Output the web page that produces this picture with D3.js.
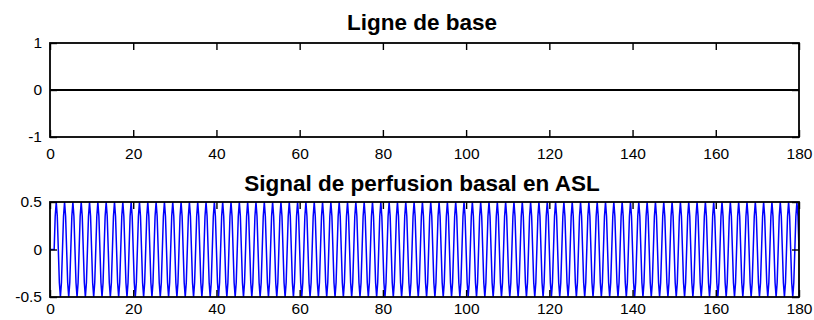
<!DOCTYPE html>
<html><head><meta charset="utf-8">
<script src="https://cdn.jsdelivr.net/npm/d3@7"></script>
<style>
body{margin:0;background:#fff}
svg{display:block}
text{font-family:"Liberation Sans",Arial,Helvetica,sans-serif}
</style>
</head><body>
<svg id="chart" width="814" height="320"></svg>
<script>
const xTicks = [0, 20, 40, 60, 80, 100, 120, 140, 160, 180];
const baselineTitle = "Ligne de base";
const signalTitle = "Signal de perfusion basal en ASL";
const baselineYTicks = [-1, 0, 1];
const signalYTicks = [-0.5, 0, 0.5];
const baselineTimes = [0, 180];
const baselineValues = [0, 0];
const signalStart = 0;
const signalStep = 0.25;
const signalValues = [
0,0,0,0,
0,.35,.5,.35,0,-.35,-.5,-.35,0,.35,.5,.35,0,-.35,-.5,-.35,0,.35,.5,.35,0,-.35,-.5,-.35,0,.35,.5,.35,0,-.35,-.5,-.35,
0,.35,.5,.35,0,-.35,-.5,-.35,0,.35,.5,.35,0,-.35,-.5,-.35,0,.35,.5,.35,0,-.35,-.5,-.35,0,.35,.5,.35,0,-.35,-.5,-.35,
0,.35,.5,.35,0,-.35,-.5,-.35,0,.35,.5,.35,0,-.35,-.5,-.35,0,.35,.5,.35,0,-.35,-.5,-.35,0,.35,.5,.35,0,-.35,-.5,-.35,
0,.35,.5,.35,0,-.35,-.5,-.35,0,.35,.5,.35,0,-.35,-.5,-.35,0,.35,.5,.35,0,-.35,-.5,-.35,0,.35,.5,.35,0,-.35,-.5,-.35,
0,.35,.5,.35,0,-.35,-.5,-.35,0,.35,.5,.35,0,-.35,-.5,-.35,0,.35,.5,.35,0,-.35,-.5,-.35,0,.35,.5,.35,0,-.35,-.5,-.35,
0,.35,.5,.35,0,-.35,-.5,-.35,0,.35,.5,.35,0,-.35,-.5,-.35,0,.35,.5,.35,0,-.35,-.5,-.35,0,.35,.5,.35,0,-.35,-.5,-.35,
0,.35,.5,.35,0,-.35,-.5,-.35,0,.35,.5,.35,0,-.35,-.5,-.35,0,.35,.5,.35,0,-.35,-.5,-.35,0,.35,.5,.35,0,-.35,-.5,-.35,
0,.35,.5,.35,0,-.35,-.5,-.35,0,.35,.5,.35,0,-.35,-.5,-.35,0,.35,.5,.35,0,-.35,-.5,-.35,0,.35,.5,.35,0,-.35,-.5,-.35,
0,.35,.5,.35,0,-.35,-.5,-.35,0,.35,.5,.35,0,-.35,-.5,-.35,0,.35,.5,.35,0,-.35,-.5,-.35,0,.35,.5,.35,0,-.35,-.5,-.35,
0,.35,.5,.35,0,-.35,-.5,-.35,0,.35,.5,.35,0,-.35,-.5,-.35,0,.35,.5,.35,0,-.35,-.5,-.35,0,.35,.5,.35,0,-.35,-.5,-.35,
0,.35,.5,.35,0,-.35,-.5,-.35,0,.35,.5,.35,0,-.35,-.5,-.35,0,.35,.5,.35,0,-.35,-.5,-.35,0,.35,.5,.35,0,-.35,-.5,-.35,
0,.35,.5,.35,0,-.35,-.5,-.35,0,.35,.5,.35,0,-.35,-.5,-.35,0,.35,.5,.35,0,-.35,-.5,-.35,0,.35,.5,.35,0,-.35,-.5,-.35,
0,.35,.5,.35,0,-.35,-.5,-.35,0,.35,.5,.35,0,-.35,-.5,-.35,0,.35,.5,.35,0,-.35,-.5,-.35,0,.35,.5,.35,0,-.35,-.5,-.35,
0,.35,.5,.35,0,-.35,-.5,-.35,0,.35,.5,.35,0,-.35,-.5,-.35,0,.35,.5,.35,0,-.35,-.5,-.35,0,.35,.5,.35,0,-.35,-.5,-.35,
0,.35,.5,.35,0,-.35,-.5,-.35,0,.35,.5,.35,0,-.35,-.5,-.35,0,.35,.5,.35,0,-.35,-.5,-.35,0,.35,.5,.35,0,-.35,-.5,-.35,
0,.35,.5,.35,0,-.35,-.5,-.35,0,.35,.5,.35,0,-.35,-.5,-.35,0,.35,.5,.35,0,-.35,-.5,-.35,0,.35,.5,.35,0,-.35,-.5,-.35,
0,.35,.5,.35,0,-.35,-.5,-.35,0,.35,.5,.35,0,-.35,-.5,-.35,0,.35,.5,.35,0,-.35,-.5,-.35,0,.35,.5,.35,0,-.35,-.5,-.35,
0,.35,.5,.35,0,-.35,-.5,-.35,0,.35,.5,.35,0,-.35,-.5,-.35,0,.35,.5,.35,0,-.35,-.5,-.35,0,.35,.5,.35,0,-.35,-.5,-.35,
0,.35,.5,.35,0,-.35,-.5,-.35,0,.35,.5,.35,0,-.35,-.5,-.35,0,.35,.5,.35,0,-.35,-.5,-.35,0,.35,.5,.35,0,-.35,-.5,-.35,
0,.35,.5,.35,0,-.35,-.5,-.35,0,.35,.5,.35,0,-.35,-.5,-.35,0,.35,.5,.35,0,-.35,-.5,-.35,0,.35,.5,.35,0,-.35,-.5,-.35,
0,.35,.5,.35,0,-.35,-.5,-.35,0,.35,.5,.35,0,-.35,-.5,-.35,0,.35,.5,.35,0,-.35,-.5,-.35,0,.35,.5,.35,0,-.35,-.5,-.35,
0,.35,.5,.35,0,-.35,-.5,-.35,0,.35,.5,.35,0,-.35,-.5,-.35,0,.35,.5,.35,0,-.35,-.5,-.35,0,.35,.5,.35,0,-.35,-.5,-.35,
0,.35,.5,.35,0,-.35,-.5,-.35,0,.35,.5,.35,0
];

const svg = d3.select("#chart");
const left = 50, right = 799;

function panel(cfg) {
  const x = d3.scaleLinear().domain([0, 180]).range([left, right]);
  const y = d3.scaleLinear().domain(cfg.yDomain).range([cfg.bottom, cfg.top]);
  const g = svg.append("g");

  const id = "clip" + cfg.key;
  svg.append("clipPath").attr("id", id).append("rect")
    .attr("x", left).attr("y", cfg.top - 1).attr("width", right - left).attr("height", cfg.bottom - cfg.top + 2);

  const line = d3.line().x(d => x(d[0])).y(d => y(d[1]));
  g.append("path").datum(cfg.points)
    .attr("clip-path", `url(#${id})`)
    .attr("fill", "none").attr("stroke", cfg.color).attr("stroke-width", cfg.lw)
    .attr("stroke-linejoin", "miter")
    .attr("d", line);

  const tk = 7;
  const fmt = d => String(d);
  const ax = (gen, tr) => {
    const a = g.append("g").attr("transform", tr).call(gen);
    a.select(".domain").remove();
    a.selectAll(".tick line").attr("stroke", "#000").attr("stroke-width", 1.4);
    a.selectAll("text").attr("fill", "#000").attr("font-size", 15.5);
    return a;
  };
  ax(d3.axisBottom(x).tickValues(xTicks).tickSizeInner(-tk).tickSizeOuter(0).tickPadding(cfg.xPad).tickFormat(fmt),
     `translate(0,${cfg.bottom})`);
  ax(d3.axisTop(x).tickValues(xTicks).tickSizeInner(-tk).tickSizeOuter(0).tickFormat(""),
     `translate(0,${cfg.top})`);
  ax(d3.axisLeft(y).tickValues(cfg.yTicks).tickSizeInner(-tk).tickSizeOuter(0).tickPadding(8).tickFormat(fmt),
     `translate(${left},0)`);
  ax(d3.axisRight(y).tickValues(cfg.yTicks).tickSizeInner(-tk).tickSizeOuter(0).tickFormat(""),
     `translate(${right},0)`);

  g.append("rect").attr("x", left).attr("y", cfg.top)
    .attr("width", right - left).attr("height", cfg.bottom - cfg.top)
    .attr("fill", "none").attr("stroke", "#000").attr("stroke-width", 1.8);

  g.append("text").attr("x", 422).attr("y", cfg.titleY)
    .attr("text-anchor", "middle").attr("font-weight", "bold").attr("font-size", 22.5)
    .attr("fill", "#000").text(cfg.title);
}

panel({
  key: "a", top: 43, bottom: 137, yDomain: [-1, 1], yTicks: baselineYTicks,
  points: baselineTimes.map((t, i) => [t, baselineValues[i]]),
  color: "#000", lw: 2, title: baselineTitle, titleY: 30, xPad: 11
});
panel({
  key: "b", top: 202, bottom: 297, yDomain: [-0.5, 0.5], yTicks: signalYTicks,
  points: signalValues.map((v, i) => [signalStart + i * signalStep, v]),
  color: "#0000ff", lw: 1.5, title: signalTitle, titleY: 191, xPad: 6
});
</script>
</body></html>
